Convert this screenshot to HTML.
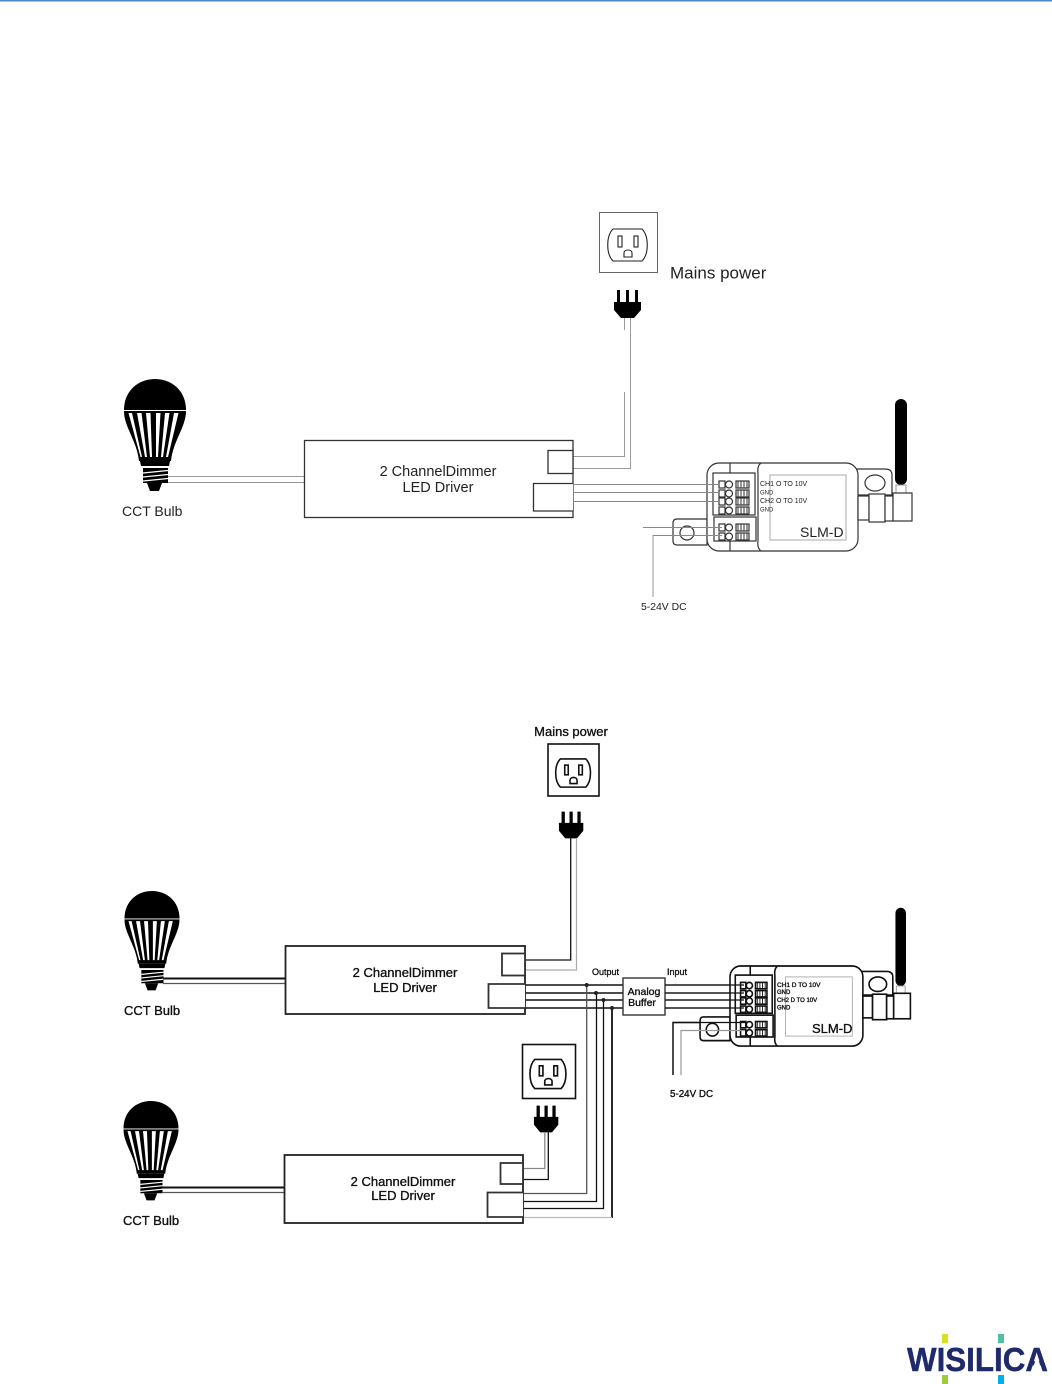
<!DOCTYPE html>
<html>
<head>
<meta charset="utf-8">
<style>
html,body{margin:0;padding:0;background:#fff}
svg{display:block}
text{font-family:"Liberation Sans",sans-serif;fill:#222}
.b text,text.b{fill:#111;stroke:#111;stroke-width:.35}
</style>
</head>
<body>
<svg width="1052" height="1384" viewBox="0 0 1052 1384" xmlns="http://www.w3.org/2000/svg">
<defs>
<g id="bulb">
  <path d="M-31 31C-31 12 -17 0 0 0C17 0 31 12 31 31Z" fill="#000"/>
  <path d="M-31 32C-31 48 -18 62 -16 82L16 82C18 62 31 48 31 32Z" fill="#000"/>
  <g fill="#fff">
    <path d="M-26.500 34L-23 34L-13 78L-14.500 78Z"/>
    <path d="M-18 34L-13.500 34L-8 78L-10 78Z"/>
    <path d="M-9 34L-4.500 34L-3 78L-5 78Z"/>
    <path d="M1 34L5.500 34L3 78L1 78Z"/>
    <path d="M10 34L14.500 34L8 78L6 78Z"/>
    <path d="M19 34L23.500 34L13 78L11 78Z"/>
  </g>
  <path d="M-15 82H15L14 87H-14Z" fill="#000"/>
  <path d="M-12 89H13V104H-12Z" fill="#000"/>
  <g stroke="#fff" stroke-width="1.300">
    <path d="M-12 94L13 91.500M-12 98L13 95.500M-12 102L13 99.500"/>
  </g>
  <path d="M-8 104H7L4 112H-5Z" fill="#000"/>
</g>
<g id="outlet">
  <path d="M14 17H43C50 24 50 42 43 49H14C7 42 7 24 14 17Z" fill="#fff"/>
  <rect x="19" y="24" width="4" height="11" fill="#fff"/>
  <rect x="35" y="24" width="4" height="11" fill="#fff"/>
  <path d="M25 45V41C25 37 33 37 33 41V45Z" fill="#fff"/>
</g>
<g id="plug">
  <path d="M1 0H4V12H1ZM10 0H13V12H10ZM19 0H22V12H19Z" fill="#000"/>
  <path d="M-2 12H25V20L18 28H5L-2 20Z" fill="#000"/>
</g>
<g id="term">
  <rect x="0" y="0" width="6" height="7" fill="#fff"/>
  <circle cx="10" cy="3.500" r="3.500" fill="#fff"/>
  <rect x="17" y="0" width="13" height="7" fill="#fff"/>
  <path d="M19 0V7M22 0V7M25 0V7M28 0V7" stroke-width="1"/>
</g>
<g id="module">
  <path d="M-30 56H0V82H-30Q-34 82 -34 78V60Q-34 56 -30 56Z" fill="#fff"/>
  <path d="M150 6H178Q185 6 185 12V32H150Z" fill="#fff"/>
  <rect x="0" y="0" width="151" height="88" rx="12" fill="#fff"/>
  <path d="M54 0Q50 3 51 10V78Q50 85 54 88M23 0V10M23 78V88" fill="none"/>
  <rect x="6" y="10" width="42" height="42" fill="none"/>
  <rect x="7" y="54" width="42" height="24" fill="none"/>
  <rect x="63" y="12" width="76" height="65" fill="none" stroke="#aaa" stroke-width="1"/>
  <use href="#term" x="12" y="18"/>
  <use href="#term" x="12" y="27"/>
  <use href="#term" x="12" y="35"/>
  <use href="#term" x="12" y="44"/>
  <use href="#term" x="12" y="61"/>
  <use href="#term" x="12" y="70"/>
  <ellipse cx="168" cy="20" rx="10" ry="8" fill="#fff"/>
  <circle cx="-20" cy="70" r="7" fill="#fff"/>
  <rect x="188" y="-64" width="12" height="86" rx="6" fill="#000" stroke="none"/>
  <rect x="189" y="22" width="10" height="9" fill="#fff" stroke="#999" stroke-width="1"/>
  <rect x="151" y="33" width="11" height="24" fill="#fff"/>
  <rect x="162" y="31" width="16" height="28" fill="#fff"/>
  <rect x="178" y="33" width="8" height="25" fill="#fff"/>
  <rect x="186" y="30" width="19" height="28" fill="#fff"/>
</g>
</defs>

<rect x="0" y="0" width="1052" height="1.500" fill="#4a86c8"/>

<!-- TOP DIAGRAM -->
<rect x="599.500" y="212.500" width="58" height="60" fill="#fff" stroke="#666" stroke-width="1"/>
<g stroke="#222" stroke-width="1.100">
  <use href="#outlet" x="599" y="212"/>
</g>
<text x="670" y="278.500" font-size="17" fill="#333">Mains power</text>
<use href="#plug" x="616" y="290"/>
<use href="#bulb" x="155" y="379"/>
<g fill="none" stroke="#999" stroke-width="1">
  <path d="M624.500 318V330M624.500 392V456.500H573"/>
  <path d="M630.500 318V468.500H573"/>
  <path d="M168 476.500H304M168 482.500H304"/>
  <path d="M573 484.500H715M573 492.500H715M573 501.500H715"/>
  <path d="M643 527.500H718M653 597V535.500H718"/>
</g>
<rect x="304.500" y="440.500" width="268.500" height="77" fill="none" stroke="#333" stroke-width="1.300"/>
<rect x="548" y="450.500" width="25" height="23" fill="#fff" stroke="#333" stroke-width="1.300"/>
<path d="M573 483.500H533.500V511H573" fill="#fff" stroke="#333" stroke-width="1.300"/>
<g transform="translate(707 463)" stroke="#333" stroke-width="1.200"><use href="#module"/></g>
<path d="M573 484.500H720M573 492.500H720M573 501.500H720M643 527.500H722M653 535.500H722" fill="none" stroke="#888" stroke-width="1"/>
<text x="122" y="516" font-size="14">CCT Bulb</text>
<text x="438" y="476" font-size="14.500" text-anchor="middle">2 ChannelDimmer</text>
<text x="438" y="492" font-size="14.500" text-anchor="middle">LED Driver</text>
<g font-size="7">
  <text x="760" y="486">CH1 O TO 10V</text>
  <text x="760" y="494.500" font-size="6">GND</text>
  <text x="760" y="503">CH2 O TO 10V</text>
  <text x="760" y="511.500" font-size="6">GND</text>
</g>
<text x="800" y="537" font-size="14">SLM-D</text>
<text x="641" y="610" font-size="10.400">5-24V DC</text>

<!-- BOTTOM DIAGRAM -->
<rect x="548" y="744" width="51" height="52" fill="#fff" stroke="#111" stroke-width="1.600"/>
<rect x="522.500" y="1044.500" width="53" height="54" fill="#fff" stroke="#111" stroke-width="1.600"/>
<g stroke="#111" stroke-width="1.800">
  <use href="#outlet" transform="translate(548 744) scale(.88)"/>
  <use href="#outlet" transform="translate(522 1044) scale(.91)"/>
</g>
<g stroke="#000" stroke-width=".7">
  <use href="#plug" transform="translate(561 812) scale(.88 .93)"/>
  <use href="#plug" transform="translate(536 1106) scale(.88 .93)"/>
</g>
<use href="#bulb" transform="translate(152 891) scale(.887)"/>
<use href="#bulb" transform="translate(151 1101) scale(.887)"/>

<g fill="none" stroke="#111" stroke-width="1.300">
  <path d="M570.700 838V960H525"/>
  <path d="M163 978.500H285" stroke-width="2"/>
  <path d="M163 983.500H285" stroke="#555"/>
  <path d="M162 1187.500H284" stroke-width="2"/>
  <path d="M162 1192.500H284" stroke="#555"/>
  <path d="M525 985H623M525 993H623M525 1000H623M525 1008H623" stroke-width="1.500"/>
  <path d="M665 985H736M665 993H736M665 1000H736M665 1008H736" stroke-width="1.300"/>
  <path d="M586.700 985V1193.500H523" stroke="#555"/>
  <path d="M596.500 993V1201.500H523"/>
  <path d="M603.500 1000V1208.500H523"/>
  <path d="M612 1008V1218" stroke-width="1.800"/>
  <path d="M548.300 1132V1179.500H523"/>
  <path d="M544.800 1132V1168.500H523" stroke="#888"/>
  <path d="M673 1075V1022.500H745" stroke-width="1.500"/>
</g>
<path d="M576.500 838V970H525" fill="none" stroke="#aaa" stroke-width="1.200"/>
<path d="M523 1217.500H612" fill="none" stroke="#bbb" stroke-width="1.200"/>
<g fill="#222">
  <circle cx="586.700" cy="985" r="2"/>
  <circle cx="596" cy="993" r="2"/>
  <circle cx="603.500" cy="1000" r="2"/>
  <circle cx="612" cy="1008" r="2"/>
</g>
<g fill="none" stroke="#222" stroke-width="1.800">
  <rect x="285.500" y="946" width="239.500" height="68"/>
  <rect x="284.500" y="1155" width="238.500" height="68"/>
</g>
<g fill="#fff" stroke="#333" stroke-width="1.800">
  <rect x="502" y="953.500" width="23" height="22"/>
  <path d="M525 984H488.500V1008H525"/>
  <rect x="500.500" y="1163" width="22.500" height="21"/>
  <path d="M523 1192.500H487.500V1217H523"/>
</g>
<rect x="623" y="978" width="42" height="37" fill="#fff" stroke="#333" stroke-width="1.400"/>
<g transform="translate(730 966) scale(.88 .91)" stroke="#111" stroke-width="1.800"><use href="#module"/></g>
<path d="M665 985H744M665 993H744M665 1000H744M665 1008H744M673 1022.500H745" fill="none" stroke="#111" stroke-width="1.300"/>
<path d="M681 1075V1030.500H745" fill="none" stroke="#999" stroke-width="1.200"/>

<g class="b">
  <text x="571" y="736" font-size="13" text-anchor="middle">Mains power</text>
  <text x="124" y="1015" font-size="13">CCT Bulb</text>
  <text x="123" y="1225" font-size="13">CCT Bulb</text>
  <text x="405" y="977" font-size="13" text-anchor="middle">2 ChannelDimmer</text>
  <text x="405" y="992" font-size="13" text-anchor="middle">LED Driver</text>
  <text x="403" y="1186" font-size="13" text-anchor="middle">2 ChannelDimmer</text>
  <text x="403" y="1200" font-size="13" text-anchor="middle">LED Driver</text>
  <text x="592" y="975" font-size="9">Output</text>
  <text x="667" y="975" font-size="9">Input</text>
  <text x="644" y="995" font-size="10.500" text-anchor="middle">Analog</text>
  <text x="642" y="1006" font-size="10.500" text-anchor="middle">Buffer</text>
  <text x="777" y="987" font-size="6.500">CH1 D TO 10V</text>
  <text x="777" y="994" font-size="6">GND</text>
  <text x="777" y="1002" font-size="6">CH2 D TO 10V</text>
  <text x="777" y="1009.500" font-size="6">GND</text>
  <text x="812" y="1033" font-size="13">SLM-D</text>
  <text x="670" y="1097" font-size="9.800">5-24V DC</text>
</g>

<!-- LOGO -->
<text x="907" y="1371" font-size="33" font-weight="bold" textLength="141" lengthAdjust="spacingAndGlyphs" style="fill:#1f2a6b;stroke:#1f2a6b;stroke-width:.4">WISILICA</text>
<polygon points="1037,1356 1031.500,1372 1042.500,1372" fill="#fff"/>
<rect x="942" y="1334" width="6" height="9" fill="#d9e021"/>
<rect x="998" y="1334" width="6" height="9" fill="#4fc0a0"/>
<rect x="942" y="1375" width="6" height="9" fill="#9ccb3b"/>
<rect x="998" y="1375" width="6" height="9" fill="#00aee8"/>
</svg>
</body>
</html>
